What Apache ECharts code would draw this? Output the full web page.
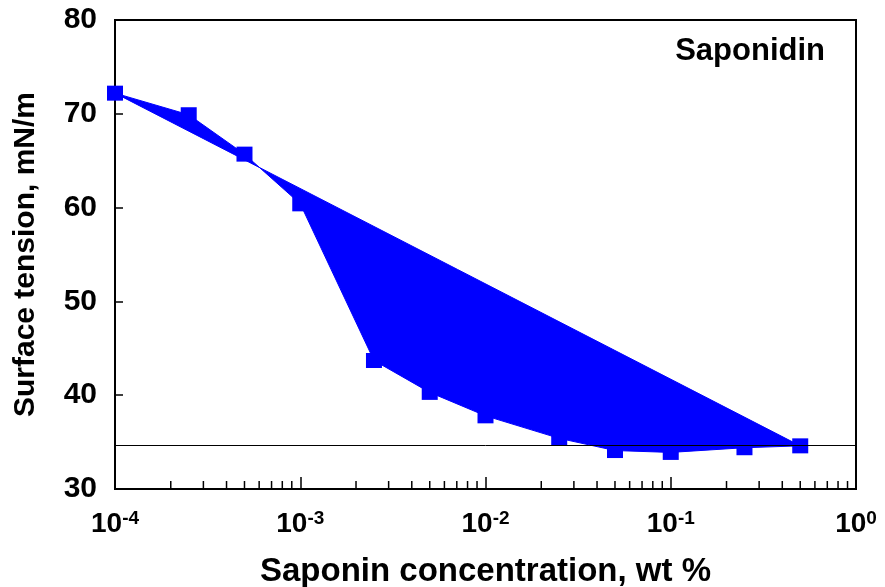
<!DOCTYPE html>
<html>
<head>
<meta charset="utf-8">
<script src="https://cdn.jsdelivr.net/npm/echarts@6/dist/echarts.min.js"></script>
<style>
html,body{margin:0;padding:0;background:#fff;}
#chart{width:885px;height:587px;}
</style>
</head>
<body>
<div id="chart"></div>
<script>
// ---- data ----
const concentrations = [1e-4, 2.5e-4, 5e-4, 1e-3, 2.5e-3, 5e-3, 1e-2, 2.5e-2, 5e-2, 1e-1, 2.5e-1, 5e-1];
const tensions = [72.2, 69.9, 65.7, 60.4, 43.7, 40.3, 37.8, 35.4, 34.1, 33.9, 34.4, 34.6];
const cmcTension = 34.7;
const label = 'Saponidin';
const xTitle = 'Saponin concentration, wt %';
const yTitle = 'Surface tension, mN/m';
const decades = [1e-4, 1e-3, 1e-2, 1e-1];
const minorMultipliers = [2, 3, 4, 5, 6, 7, 8, 9];
const yTicks = [30, 40, 50, 60, 70, 80];

const points = concentrations.map((c, i) => [c, tensions[i]]);
const minorTicks = [];
decades.forEach(d => minorMultipliers.forEach(m => minorTicks.push([d * m, yTicks[0]])));

const FONT = '"Liberation Sans", Arial, sans-serif';
const chart = echarts.init(document.getElementById('chart'));
chart.setOption({
  animation: false,
  backgroundColor: '#fff',
  grid: { left: 115, right: 29, top: 20, bottom: 98, outerBoundsMode: 'none', containLabel: false,
          show: true, borderColor: '#000', borderWidth: 2, backgroundColor: 'transparent' },
  title: {
    text: label, right: 55, top: 31,
    textStyle: { fontFamily: FONT, fontWeight: 'bold', fontSize: 31, color: '#000' }
  },
  xAxis: {
    type: 'log', logBase: 10, min: 1e-4, max: 1,
    name: xTitle, nameLocation: 'middle', nameGap: 66,
    nameTextStyle: { fontFamily: FONT, fontWeight: 'bold', fontSize: 33, color: '#000' },
    axisLine: { lineStyle: { color: '#000', width: 2 } },
    axisTick: { inside: true, length: 12, lineStyle: { color: '#000', width: 1.5 } },
    splitLine: { show: false },
    axisLabel: {
      margin: 20,
      formatter: v => '{b|10}{s|' + Math.round(Math.log10(v)) + '}',
      rich: {
        b: { fontFamily: FONT, fontWeight: 'bold', fontSize: 28, color: '#000' },
        s: { fontFamily: FONT, fontWeight: 'bold', fontSize: 19, color: '#000', padding: [0, 0, 12, 0] }
      }
    }
  },
  yAxis: {
    type: 'value', min: 30, max: 80, interval: 10,
    name: yTitle, nameLocation: 'middle', nameGap: 74,
    nameTextStyle: { fontFamily: FONT, fontWeight: 'bold', fontSize: 30, color: '#000' },
    axisLine: { show: true, lineStyle: { color: '#000', width: 2 } },
    axisTick: { show: true, inside: true, length: 8, lineStyle: { color: '#000', width: 1.5 } },
    splitLine: { show: false },
    axisLabel: { margin: 18, fontFamily: FONT, fontWeight: 'bold', fontSize: 30, color: '#000' }
  },
  series: [
    {
      type: 'custom',
      data: minorTicks,
      silent: true,
      z: 3,
      renderItem: (params, api) => {
        const p = api.coord([api.value(0), api.value(1)]);
        return { type: 'line', shape: { x1: p[0], y1: p[1], x2: p[0], y2: p[1] - 8 }, style: { stroke: '#000', lineWidth: 1.5 } };
      }
    },
    {
      type: 'line',
      data: [],
      z: 1,
      markLine: {
        silent: true, symbol: 'none',
        label: { show: false },
        lineStyle: { color: '#000', width: 1, type: 'solid' },
        data: [{ yAxis: cmcTension }]
      }
    },
    {
      type: 'custom',
      data: points,
      silent: true,
      z: 2,
      renderItem: (params, api) => {
        if (params.dataIndex !== 0) return null;
        const poly = points.map(p => api.coord(p));
        return { type: 'polygon', shape: { points: poly }, style: { fill: '#0000FF', stroke: '#0000FF', lineWidth: 1 } };
      }
    },
    {
      type: 'scatter',
      data: points,
      symbol: 'rect',
      symbolSize: [16, 15],
      itemStyle: { color: '#0000FF', opacity: 1 },
      z: 4
    }
  ]
});
</script>
</body>
</html>
